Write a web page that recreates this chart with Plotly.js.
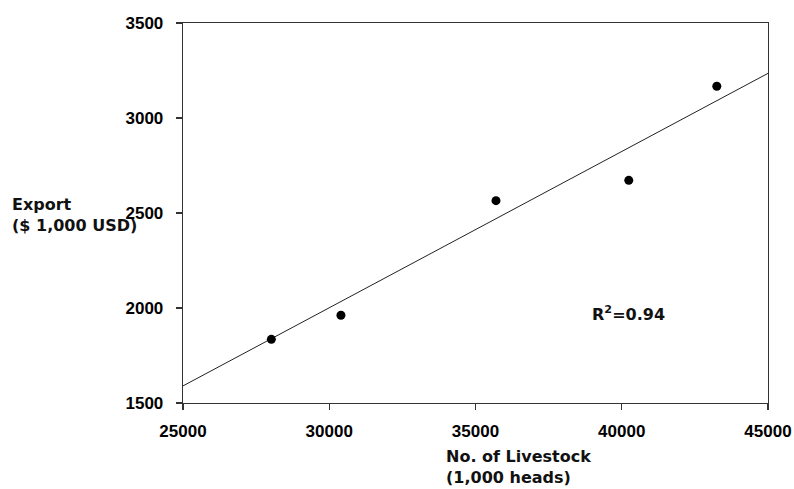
<!DOCTYPE html>
<html>
<head>
<meta charset="utf-8">
<script src="https://cdn.plot.ly/plotly-3.0.1.min.js"></script>
<style>html,body{margin:0;padding:0;background:#fff;}#chart{width:794px;height:489px;}</style>
</head>
<body>
<div id="chart"></div>
<script>
// Data
const livestock = [28020, 30400, 35700, 40240, 43250];
const exportVal = [1835, 1962, 2565, 2672, 3167];
// Fitted regression line (as drawn in the reference)
const fitX = [25000, 45000];
const fitY = [1590, 3235];
const xTicks = [25000, 30000, 35000, 40000, 45000];
const yTicks = [1500, 2000, 2500, 3000, 3500];
const r2Label = "R<sup>2</sup>=0.94";

const titleFont = {family: "'DejaVu Sans', 'Noto Sans', sans-serif", size: 16, color: "#111", weight: 700};
const tickFont = {family: "'Liberation Sans', Arial, sans-serif", size: 17, color: "#000", weight: 700};

const traces = [
  {x: fitX, y: fitY, mode: "lines", type: "scatter", line: {color: "#222", width: 1}, hoverinfo: "skip"},
  {x: livestock, y: exportVal, mode: "markers", type: "scatter", marker: {color: "#000", size: 9}}
];

const axisCommon = {
  showgrid: false, zeroline: false, showline: true, linecolor: "#333", linewidth: 1.3,
  mirror: true, ticks: "outside", ticklen: 6, tickwidth: 1.3, tickcolor: "#333",
  tickfont: tickFont, tickmode: "array"
};

const layout = {
  width: 794, height: 489,
  margin: {l: 183, r: 26, t: 23, b: 86},
  paper_bgcolor: "#fff", plot_bgcolor: "#fff",
  showlegend: false,
  xaxis: Object.assign({}, axisCommon, {range: [25000, 45000], tickvals: xTicks, ticktext: xTicks.map(String), ticklabelstandoff: 6}),
  yaxis: Object.assign({}, axisCommon, {range: [1500, 3500], tickvals: yTicks, ticktext: yTicks.map(String), ticklabelstandoff: 9}),
  annotations: [
    {xref: "paper", yref: "paper", x: -0.2957, y: 0.4947, xanchor: "left", yanchor: "middle", align: "left",
     showarrow: false, text: "Export<br>($ 1,000 USD)", font: titleFont},
    {xref: "paper", yref: "paper", x: 0.4470, y: -0.168, xanchor: "left", yanchor: "middle", align: "left",
     showarrow: false, text: "No. of Livestock<br>(1,000 heads)", font: titleFont},
    {xref: "x", yref: "y", x: 38900, y: 1972, xanchor: "left", yanchor: "middle",
     showarrow: false, text: r2Label, font: titleFont}
  ]
};

Plotly.newPlot("chart", traces, layout, {displayModeBar: false, staticPlot: true});
</script>
</body>
</html>
